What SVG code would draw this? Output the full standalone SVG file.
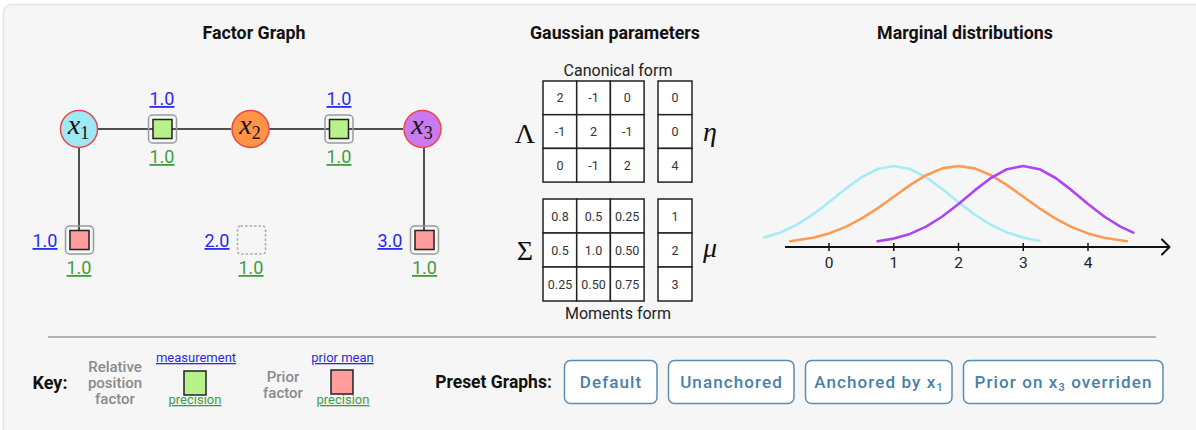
<svg xmlns="http://www.w3.org/2000/svg" width="1196" height="430" viewBox="0 0 1196 430">
<style>
.title{font-family:Roboto,"Liberation Sans",sans-serif;font-weight:bold;font-size:17.8px;fill:#111;text-anchor:middle}
.edge{stroke:#505050;stroke-width:2;fill:none}
.var{stroke:#ee4444;stroke-width:1.5}
.math{font-family:"Liberation Serif","DejaVu Serif",serif;fill:#111;text-anchor:middle}
.frame{fill:none;stroke:#9a9a9a;stroke-width:1.5}
.rel{fill:#b8f08a;stroke:#222;stroke-width:1.5}
.pri{fill:#ff9c9c;stroke:#222;stroke-width:1.5}
.lbl{font-family:Roboto,"Liberation Sans",sans-serif;font-size:18px;text-anchor:middle;text-decoration:underline}
.blue{fill:#2a2aee}
.green{fill:#3f9c3f}
.cell{fill:#fff;stroke:#222;stroke-width:1.5}
.num{font-family:Roboto,"Liberation Sans",sans-serif;font-size:12.5px;fill:#333;text-anchor:middle}
.cap{font-family:Roboto,"Liberation Sans",sans-serif;font-size:16px;fill:#222;text-anchor:middle}
.tick{font-family:Roboto,"Liberation Sans",sans-serif;font-size:15.5px;fill:#222;text-anchor:middle}
.curve{fill:none;stroke-width:2.6;stroke-linejoin:round;stroke-linecap:round}
.keyg{font-family:Roboto,"Liberation Sans",sans-serif;font-size:15px;font-weight:500;fill:#8a8a8a;text-anchor:middle}
.keyl{font-family:Roboto,"Liberation Sans",sans-serif;font-size:13px;text-anchor:middle;text-decoration:underline}
.btn{fill:#fff;stroke:#5b8db0;stroke-width:1.5}
.btnt{font-family:Roboto,"Liberation Sans",sans-serif;font-size:17px;font-weight:500;fill:#4a80a8;text-anchor:middle;letter-spacing:1.1px}
.bold{font-family:Roboto,"Liberation Sans",sans-serif;font-weight:bold;fill:#111}
</style>
<rect x="0" y="0" width="1196" height="430" fill="#ffffff"/>
<rect x="3.5" y="4.5" width="1230" height="450" rx="8" fill="#f6f6f6" stroke="#e4e4e4" stroke-width="1.5"/>

<text class="title" x="254" y="39">Factor Graph</text>
<text class="title" x="615" y="39">Gaussian parameters</text>
<text class="title" x="965" y="39">Marginal distributions</text>

<g id="connectors">
<line class="edge" x1="97" y1="129" x2="231" y2="129"/>
<line class="edge" x1="269" y1="129" x2="403" y2="129"/>
<line class="edge" x1="79" y1="148" x2="79" y2="232"/>
<line class="edge" x1="424" y1="148" x2="424" y2="232"/>
</g>

<g id="x1">
<circle class="var" cx="79" cy="129" r="18.5" fill="#9fe9f5"/>
<text class="math" x="78.5" y="134"><tspan font-style="italic" font-size="28">x</tspan><tspan font-size="18" dy="5">1</tspan></text>
</g>
<g id="x2">
<circle class="var" cx="250.5" cy="129" r="18.5" fill="#ff9448"/>
<text class="math" x="250" y="134"><tspan font-style="italic" font-size="28">x</tspan><tspan font-size="18" dy="5">2</tspan></text>
</g>
<g id="x3">
<circle class="var" cx="422.5" cy="129" r="18.5" fill="#c97af0"/>
<text class="math" x="422" y="134"><tspan font-style="italic" font-size="28">x</tspan><tspan font-size="18" dy="5">3</tspan></text>
</g>

<g id="f12">
<rect class="frame" x="148.5" y="115" width="28" height="28" rx="4"/>
<rect class="rel" x="153" y="119.5" width="19" height="19"/>
<text class="lbl blue" x="162" y="105">1.0</text>
<text class="lbl green" x="162" y="163">1.0</text>
</g>
<g id="f23">
<rect class="frame" x="325" y="115" width="28" height="28" rx="4"/>
<rect class="rel" x="329.5" y="119.5" width="19" height="19"/>
<text class="lbl blue" x="339" y="105">1.0</text>
<text class="lbl green" x="339" y="163">1.0</text>
</g>
<g id="p1">
<rect class="frame" x="65.5" y="226" width="28" height="28" rx="4"/>
<rect class="pri" x="70" y="230.5" width="19" height="19"/>
<text class="lbl blue" x="45" y="247">1.0</text>
<text class="lbl green" x="79" y="274">1.0</text>
</g>
<g id="p2">
<rect x="237.5" y="226" width="28" height="28" rx="3" fill="none" stroke="#aaaaaa" stroke-width="1.5" stroke-dasharray="2.5,2"/>
<text class="lbl blue" x="217" y="247">2.0</text>
<text class="lbl green" x="251" y="274">1.0</text>
</g>
<g id="p3">
<rect class="frame" x="410.5" y="226" width="28" height="28" rx="4"/>
<rect class="pri" x="415" y="230.5" width="19" height="19"/>
<text class="lbl blue" x="390" y="247">3.0</text>
<text class="lbl green" x="424.5" y="274">1.0</text>
</g>

<g id="canonical">
<text class="cap" x="618" y="76">Canonical form</text>
<text class="math" x="525" y="143" font-size="28">Λ</text>
<text class="math" x="710" y="141" font-size="28" font-style="italic">η</text>
<g>
<rect class="cell" x="543" y="81" width="33.7" height="33.7"/><rect class="cell" x="576.7" y="81" width="33.7" height="33.7"/><rect class="cell" x="610.4" y="81" width="33.7" height="33.7"/>
<rect class="cell" x="543" y="114.7" width="33.7" height="33.7"/><rect class="cell" x="576.7" y="114.7" width="33.7" height="33.7"/><rect class="cell" x="610.4" y="114.7" width="33.7" height="33.7"/>
<rect class="cell" x="543" y="148.4" width="33.7" height="33.7"/><rect class="cell" x="576.7" y="148.4" width="33.7" height="33.7"/><rect class="cell" x="610.4" y="148.4" width="33.7" height="33.7"/>
<rect class="cell" x="658" y="81" width="34" height="33.7"/><rect class="cell" x="658" y="114.7" width="34" height="33.7"/><rect class="cell" x="658" y="148.4" width="34" height="33.7"/>
</g>
<text class="num" x="560" y="102.3">2</text><text class="num" x="593.5" y="102.3">-1</text><text class="num" x="627.2" y="102.3">0</text>
<text class="num" x="560" y="136">-1</text><text class="num" x="593.5" y="136">2</text><text class="num" x="627.2" y="136">-1</text>
<text class="num" x="560" y="169.7">0</text><text class="num" x="593.5" y="169.7">-1</text><text class="num" x="627.2" y="169.7">2</text>
<text class="num" x="675" y="102.3">0</text><text class="num" x="675" y="136">0</text><text class="num" x="675" y="169.7">4</text>
</g>

<g id="moments">
<text class="math" x="525" y="260" font-size="28">Σ</text>
<text class="math" x="710" y="257" font-size="28" font-style="italic">μ</text>
<g>
<rect class="cell" x="543" y="199" width="33.7" height="34"/><rect class="cell" x="576.7" y="199" width="33.7" height="34"/><rect class="cell" x="610.4" y="199" width="33.7" height="34"/>
<rect class="cell" x="543" y="233" width="33.7" height="34"/><rect class="cell" x="576.7" y="233" width="33.7" height="34"/><rect class="cell" x="610.4" y="233" width="33.7" height="34"/>
<rect class="cell" x="543" y="267" width="33.7" height="34"/><rect class="cell" x="576.7" y="267" width="33.7" height="34"/><rect class="cell" x="610.4" y="267" width="33.7" height="34"/>
<rect class="cell" x="658" y="199" width="34" height="34"/><rect class="cell" x="658" y="233" width="34" height="34"/><rect class="cell" x="658" y="267" width="34" height="34"/>
</g>
<text class="num" x="560" y="220.5">0.8</text><text class="num" x="593.5" y="220.5">0.5</text><text class="num" x="627.2" y="220.5">0.25</text>
<text class="num" x="560" y="254.5">0.5</text><text class="num" x="593.5" y="254.5">1.0</text><text class="num" x="627.2" y="254.5">0.50</text>
<text class="num" x="560" y="288.5">0.25</text><text class="num" x="593.5" y="288.5">0.50</text><text class="num" x="627.2" y="288.5">0.75</text>
<text class="num" x="675" y="220.5">1</text><text class="num" x="675" y="254.5">2</text><text class="num" x="675" y="288.5">3</text>
<text class="cap" x="618" y="319">Moments form</text>
</g>

<g id="marginals">
<polyline class="curve" stroke="#a6ecf6" points="764.25,237.6 780.44,232.5 796.63,224.9 812.81,214.6 829,202.3 845.19,189.1 861.38,177.3 877.56,169 893.75,166 909.94,169 926.13,177.3 942.31,189.1 958.5,202.3 974.69,214.6 990.88,224.9 1007.06,232.5 1023.25,237.6 1039.44,240.7"/>
<polyline class="curve" stroke="#ff9a52" points="790.15,241.3 812.81,237.8 829,233.4 845.19,227.1 861.38,218.7 877.56,208.3 893.75,196.7 909.94,185.1 926.13,175.2 942.31,168.4 958.5,166 974.69,168.4 990.88,175.2 1007.06,185.1 1023.25,196.7 1039.44,208.3 1055.63,218.7 1071.81,227.1 1088,233.4 1104.19,237.8 1126.85,241.3"/>
<polyline class="curve" stroke="#ad45f2" points="877.56,241.3 893.75,238.6 909.94,233.9 926.13,226.6 942.31,216.5 958.5,204 974.69,190.4 990.88,178 1007.06,169.2 1023.25,166 1039.44,169.2 1055.63,178 1071.81,190.4 1088,204 1104.19,216.5 1120.38,226.6 1133.3,232.6"/>
<line x1="785" y1="247" x2="1169" y2="247" stroke="#111" stroke-width="2"/>
<polyline points="1162,239.5 1169.5,247 1162,254.5" fill="none" stroke="#111" stroke-width="2" stroke-linecap="round" stroke-linejoin="round"/>
<g stroke="#111" stroke-width="1.5">
<line x1="829" y1="243" x2="829" y2="251"/><line x1="893.75" y1="243" x2="893.75" y2="251"/><line x1="958.5" y1="243" x2="958.5" y2="251"/><line x1="1023.25" y1="243" x2="1023.25" y2="251"/><line x1="1088" y1="243" x2="1088" y2="251"/>
</g>
<text class="tick" x="829" y="268">0</text><text class="tick" x="893.75" y="268">1</text><text class="tick" x="958.5" y="268">2</text><text class="tick" x="1023.25" y="268">3</text><text class="tick" x="1088" y="268">4</text>
</g>

<line x1="48" y1="337" x2="1156" y2="337" stroke="#b4b4b4" stroke-width="2"/>

<g id="key">
<text class="bold" x="50" y="389" font-size="18" text-anchor="middle">Key:</text>
<text class="keyg" x="115" y="372">Relative</text>
<text class="keyg" x="115" y="388">position</text>
<text class="keyg" x="115" y="404">factor</text>
<text class="keyl blue" x="196" y="362">measurement</text>
<rect class="rel" x="184" y="371" width="22" height="24"/>
<text class="keyl green" x="195" y="404">precision</text>
<text class="keyg" x="283" y="382">Prior</text>
<text class="keyg" x="283" y="398">factor</text>
<text class="keyl blue" x="342.5" y="362">prior mean</text>
<rect class="pri" x="331" y="370" width="22" height="24"/>
<text class="keyl green" x="343" y="404">precision</text>
</g>

<g id="presets">
<text class="bold" x="493.5" y="388" font-size="17.5" text-anchor="middle">Preset Graphs:</text>
<rect class="btn" x="564.5" y="360.5" width="92.5" height="43" rx="6"/>
<text class="btnt" x="611" y="388">Default</text>
<rect class="btn" x="668.5" y="360.5" width="125.5" height="43" rx="6"/>
<text class="btnt" x="731.5" y="388">Unanchored</text>
<rect class="btn" x="805.5" y="360.5" width="146.5" height="43" rx="6"/>
<text class="btnt" x="879" y="388">Anchored by x<tspan font-size="11" dy="3">1</tspan></text>
<rect class="btn" x="963.5" y="360.5" width="199.5" height="43" rx="6"/>
<text class="btnt" x="1063.5" y="388">Prior on x<tspan font-size="11" dy="3">3</tspan><tspan dy="-3"> overriden</tspan></text>
</g>
</svg>
